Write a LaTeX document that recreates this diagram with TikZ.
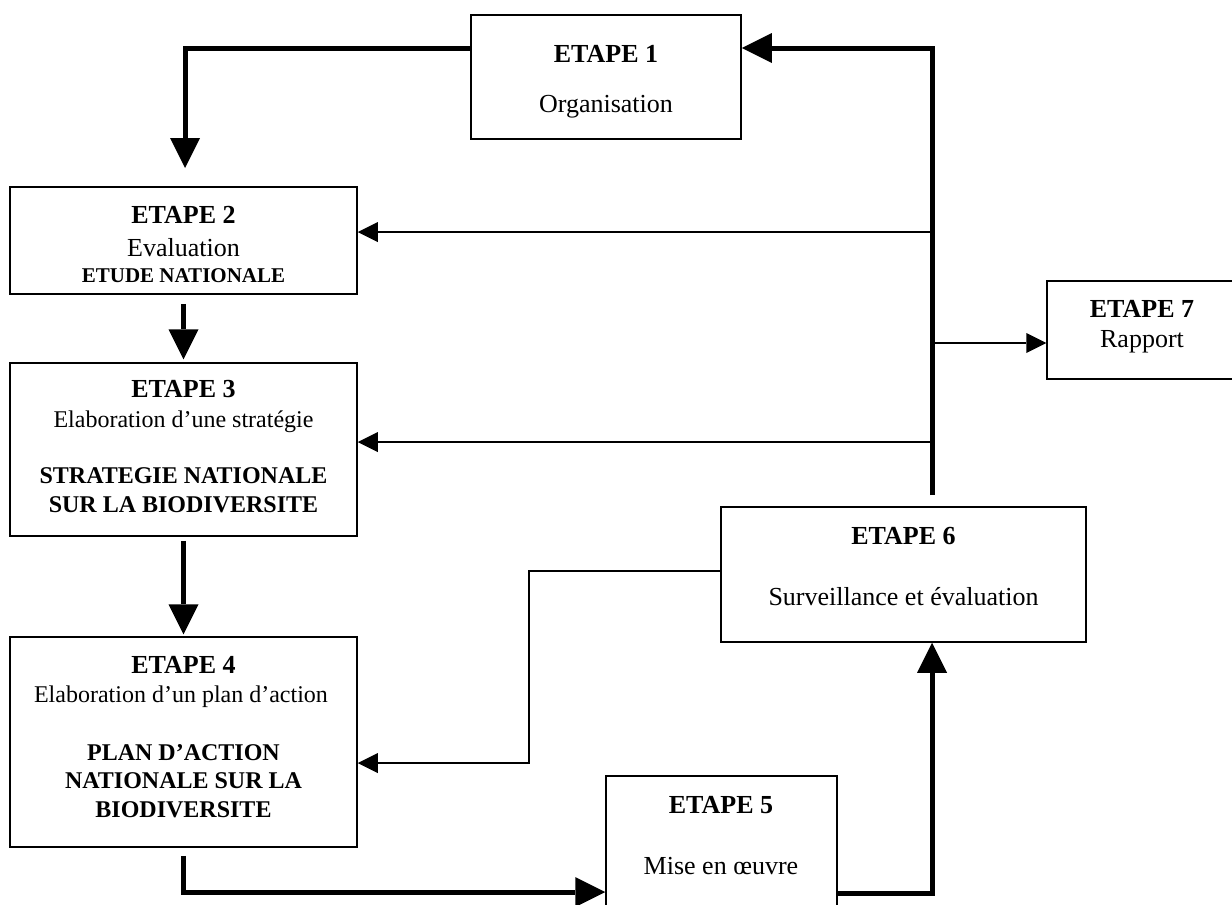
\documentclass[tikz,border=0pt]{standalone}
\usepackage{fontspec}
\setmainfont{Liberation Serif}
\usetikzlibrary{arrows.meta}
\begin{document}
\begin{tikzpicture}[x=1pt,y=-1pt,
  box/.style={draw, line width=1.5pt, inner sep=0pt},
  hd/.style={font=\fontsize{26}{30}\selectfont\bfseries, anchor=base, inner sep=0pt},
  tx/.style={font=\fontsize{26}{30}\selectfont, anchor=base, inner sep=0pt},
  txs/.style={font=\fontsize{24}{28}\selectfont, anchor=base, inner sep=0pt},
  bds/.style={font=\fontsize{24}{28}\selectfont\bfseries, anchor=base, inner sep=0pt},
  bdxs/.style={font=\fontsize{21}{24}\selectfont\bfseries, anchor=base, inner sep=0pt},
  thickarr/.style={line width=5pt, -{Triangle[width=30pt,length=30pt,line width=0pt]}},
  thinarr/.style={line width=1.5pt, -{Triangle[width=20pt,length=20pt,line width=0pt]}}]
\useasboundingbox (0,0) rectangle (1232,905);
\fill[white] (0,0) rectangle (1232,905);

% boxes
\node[box, minimum width=270pt, minimum height=124pt] (b1) at (606,77) {};
\node[box, minimum width=347pt, minimum height=107pt] (b2) at (183.5,240.5) {};
\node[box, minimum width=347pt, minimum height=173pt] (b3) at (183.5,449.5) {};
\node[box, minimum width=347pt, minimum height=210pt] (b4) at (183.5,742) {};
\node[box, minimum width=231pt, minimum height=140pt] (b5) at (721.5,846) {};
\node[box, minimum width=365pt, minimum height=135pt] (b6) at (903.5,574.5) {};
\node[box, minimum width=186pt, minimum height=98pt] (b7) at (1140,330) {};

% texts
\node[hd] (h1) at (606,62) {ETAPE 1};
\node[tx] (s1) at (606,112) {Organisation};
\node[hd] (h2) at (183.5,223) {ETAPE 2};
\node[tx] (s2) at (183.5,256) {Evaluation};
\node[bdxs] (e2) at (183.5,282) {ETUDE NATIONALE};
\node[hd] (h3) at (183.5,397) {ETAPE 3};
\node[txs] (s3) at (183.5,427) {Elaboration d’une stratégie};
\node[bds] (e3a) at (183.5,483) {STRATEGIE NATIONALE};
\node[bds] (e3b) at (183.5,512) {SUR LA BIODIVERSITE};
\node[hd] (h4) at (183.5,673) {ETAPE 4};
\node[txs] (s4) at (181,702) {Elaboration d’un plan d’action};
\node[bds] (e4a) at (183.5,760) {PLAN D’ACTION};
\node[bds] (e4b) at (183.5,788) {NATIONALE SUR LA};
\node[bds] (e4c) at (183.5,817) {BIODIVERSITE};
\node[hd] (h5) at (721,813) {ETAPE 5};
\node[tx] (s5) at (721,874) {Mise en œuvre};
\node[hd] (h6) at (903.5,544) {ETAPE 6};
\node[tx] (s6) at (903.5,605) {Surveillance et évaluation};
\node[hd] (h7) at (1142,317) {ETAPE 7};
\node[tx] (s7) at (1142,347) {Rapport};

% corner coordinates
\coordinate (c1) at (185,48);
\coordinate (t2) at (185,168);
\coordinate (v) at (932,48);
\coordinate (v6) at (932,495);
\coordinate (c4) at (183,892);
\coordinate (c5) at (932,893);
\coordinate (l6) at (529,571);
\coordinate (l4) at (529,763);
\coordinate (k2) at (932,232);
\coordinate (k7) at (932,343);
\coordinate (k3) at (932,442);

% thick connectors
\draw[thickarr] (b1.west |- c1) -- (c1) -- (t2);
\draw[thickarr] ([yshift=-9pt]b2.south) -- ([yshift=3pt]b3.north);
\draw[thickarr] ([yshift=-4pt]b3.south) -- ([yshift=2pt]b4.north);
\draw[thickarr] ([yshift=-8pt]b4.south) -- (b4.south |- c4) -- (b5.west |- c4);
\draw[thickarr] (b5.east |- c5) -- (c5) -- (b6.south -| c5);
\draw[thickarr] (v6) -- (v) -- (b1.east |- v);

% thin connectors
\draw[thinarr] (k2) -- (b2.east |- k2);
\draw[thinarr] (k7) -- (b7.west |- k7);
\draw[thinarr] (k3) -- (b3.east |- k3);
\draw[thinarr] (b6.west |- l6) -- (l6) -- (l4) -- (b4.east |- l4);
\end{tikzpicture}
\end{document}
